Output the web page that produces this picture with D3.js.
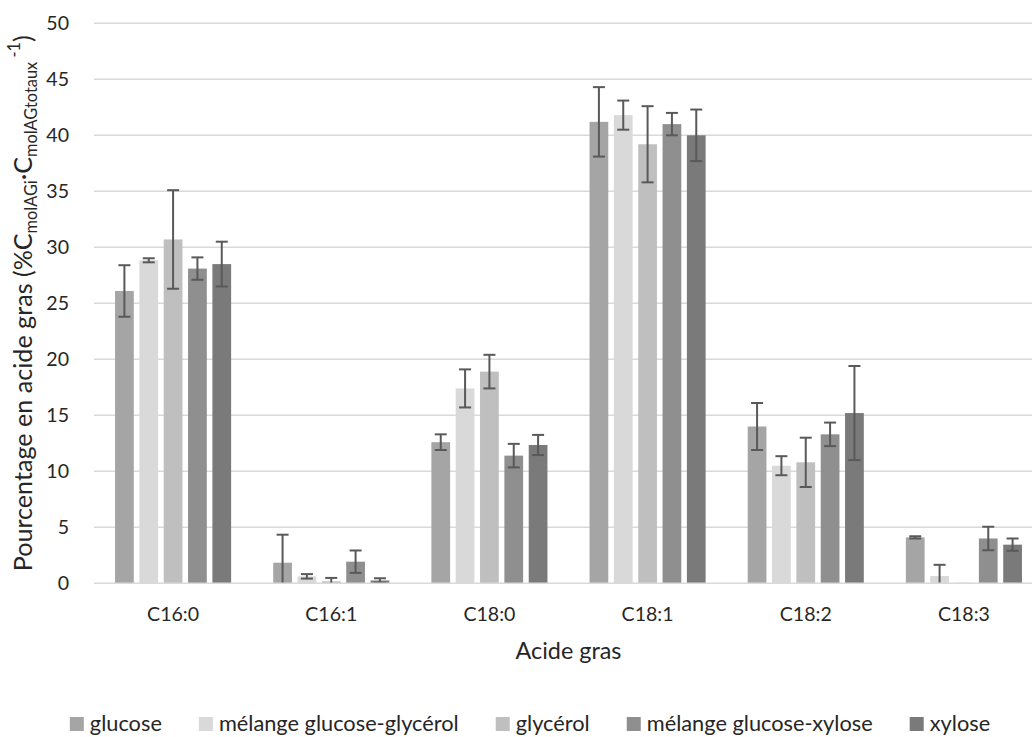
<!DOCTYPE html>
<html><head><meta charset="utf-8">
<script src="https://cdn.jsdelivr.net/npm/d3@7"></script>
<style>
html,body{margin:0;padding:0;background:#fff;}
svg text{font-family:Lato,"Open Sans",sans-serif;fill:#262626;}
</style></head>
<body><svg id="c" width="1032" height="737"></svg>
<script>
const categories = ["C16:0","C16:1","C18:0","C18:1","C18:2","C18:3"];
const seriesNames = ["glucose","mélange glucose-glycérol","glycérol","mélange glucose-xylose","xylose"];
const glucose      = [26.1, 1.84, 12.6, 41.2, 14.0, 4.1];
const glucoseErr   = [2.3, 2.5, 0.7, 3.1, 2.1, 0.1];
const melGlyc      = [28.84, 0.62, 17.4, 41.8, 10.5, 0.65];
const melGlycErr   = [0.18, 0.2, 1.7, 1.3, 0.85, 1.0];
const glycerol     = [30.7, 0.18, 18.9, 39.2, 10.8, 0.05];
const glycerolErr  = [4.4, 0.3, 1.5, 3.4, 2.2, 0];
const melXyl       = [28.1, 1.93, 11.4, 41.0, 13.3, 4.0];
const melXylErr    = [1.0, 1.0, 1.05, 1.0, 1.05, 1.05];
const xylose       = [28.5, 0.25, 12.35, 40.0, 15.2, 3.45];
const xyloseErr    = [2.0, 0.2, 0.9, 2.3, 4.2, 0.55];
const yTicks = [0,5,10,15,20,25,30,35,40,45,50];
const colors = ["#a5a5a5","#d9d9d9","#bfbfbf","#8f8f8f","#7a7a7a"];

const values = [glucose, melGlyc, glycerol, melXyl, xylose];
const errors = [glucoseErr, melGlycErr, glycerolErr, melXylErr, xyloseErr];

const svg = d3.select("#c");
const pLeft = 94, pRight = 1043, pTop = 23.3, pBottom = 583.3;

function fitSize(str, target) {
  const t = svg.append("text").attr("font-size", 20).text(str);
  const w = t.node().getComputedTextLength();
  t.remove();
  return 20 * target / w;
}
const tickFS = fitSize("C16:0", 52);
const legFS = fitSize("mélange glucose-glycérol", 240);
const titleFS = fitSize("Acide gras", 106);

const x0 = d3.scaleBand().domain(categories).range([pLeft, pRight]).paddingInner(0.266).paddingOuter(0.133);
const x1 = d3.scaleBand().domain(d3.range(seriesNames.length)).range([0, x0.bandwidth()]).paddingInner(0.23);
const y = d3.scaleLinear().domain([0, 50]).range([pBottom, pTop]);

// gridlines
svg.append("g").selectAll("line").data(yTicks.filter(d=>d>0)).join("line")
  .attr("x1", pLeft).attr("x2", pRight).attr("y1", d=>y(d)).attr("y2", d=>y(d))
  .attr("stroke", "#d9d9d9").attr("stroke-width", 1.5);

// y tick labels
svg.append("g").selectAll("text").data(yTicks).join("text")
  .attr("x", pLeft - 25).attr("y", d => y(d)).attr("dy", "0.35em")
  .attr("text-anchor", "end").attr("font-size", tickFS).text(d => d);

// bars
const groups = svg.append("g").selectAll("g").data(categories).join("g")
  .attr("transform", d => `translate(${x0(d)},0)`);
values.forEach((vals, s) => {
  groups.append("rect")
    .attr("x", x1(s)).attr("width", x1.bandwidth())
    .attr("y", (d,i) => y(vals[i])).attr("height", (d,i) => y(0) - y(vals[i]))
    .attr("fill", colors[s]);
});

// baseline
svg.append("line").attr("x1", pLeft).attr("x2", pRight).attr("y1", y(0)).attr("y2", y(0))
  .attr("stroke", "#d9d9d9").attr("stroke-width", 1.5);

// error bars
values.forEach((vals, s) => {
  groups.each(function(d, i){
    const e = errors[s][i];
    if (!e) return;
    const g = d3.select(this);
    const cx = x1(s) + x1.bandwidth()/2;
    const lo = Math.max(0, vals[i]-e), hi = vals[i]+e;
    g.append("line").attr("x1", cx).attr("x2", cx).attr("y1", y(lo)).attr("y2", y(hi))
      .attr("stroke", "#595959").attr("stroke-width", 2);
    [hi, vals[i]-e].forEach(v => {
      if (v < 0) return;
      g.append("line").attr("x1", cx-6).attr("x2", cx+6).attr("y1", y(v)).attr("y2", y(v))
        .attr("stroke", "#595959").attr("stroke-width", 2);
    });
  });
});

// x tick labels
svg.append("g").selectAll("text").data(categories).join("text")
  .attr("x", d => x0(d) + x0.bandwidth()/2).attr("y", 621)
  .attr("text-anchor", "middle").attr("font-size", tickFS).text(d => d);

// x title
svg.append("text").attr("x", (pLeft+pRight)/2).attr("y", 659).attr("text-anchor","middle")
  .attr("font-size", titleFS).text("Acide gras");

// y title
const yt = svg.append("text").attr("text-anchor","start").attr("font-size", titleFS);
yt.append("tspan").attr("class","m").text("Pourcentage en acide gras (%C");
yt.append("tspan").attr("class","s").attr("dy", 5).text("molAGi");
yt.append("tspan").attr("class","m").attr("dy", -5).text("·C");
yt.append("tspan").attr("class","s").attr("dy", 5).text("molAGtotaux");
yt.append("tspan").attr("class","s").attr("dy", -17).text(" -1");
yt.append("tspan").attr("class","m").attr("dy", 12).text(")");
let yFS = titleFS;
for (let k = 0; k < 3; k++) {
  yt.attr("font-size", yFS);
  yt.selectAll("tspan.s").attr("font-size", yFS * 0.65);
  const L = yt.node().getComputedTextLength();
  yFS = yFS * 536 / L;
}
yt.attr("font-size", yFS);
yt.selectAll("tspan.s").attr("font-size", yFS * 0.65);
const ytLen = yt.node().getComputedTextLength();
yt.attr("transform", `translate(32,${(pTop+pBottom)/2 + ytLen/2}) rotate(-90)`);

// legend
const leg = svg.append("g");
let lx = 0;
const sq = 14, sqGap = 6, itemGap = 37;
seriesNames.forEach((n, i) => {
  const it = leg.append("g").attr("transform", `translate(${lx},0)`);
  it.append("rect").attr("x", 0).attr("y", -sq).attr("width", sq).attr("height", sq).attr("fill", colors[i]);
  const t = it.append("text").attr("x", sq + sqGap).attr("y", 0).attr("font-size", legFS).text(n);
  lx += sq + sqGap + t.node().getComputedTextLength() + itemGap;
});
const totalW = lx - itemGap;
leg.attr("transform", `translate(${530 - totalW/2},731)`);
</script></body></html>
